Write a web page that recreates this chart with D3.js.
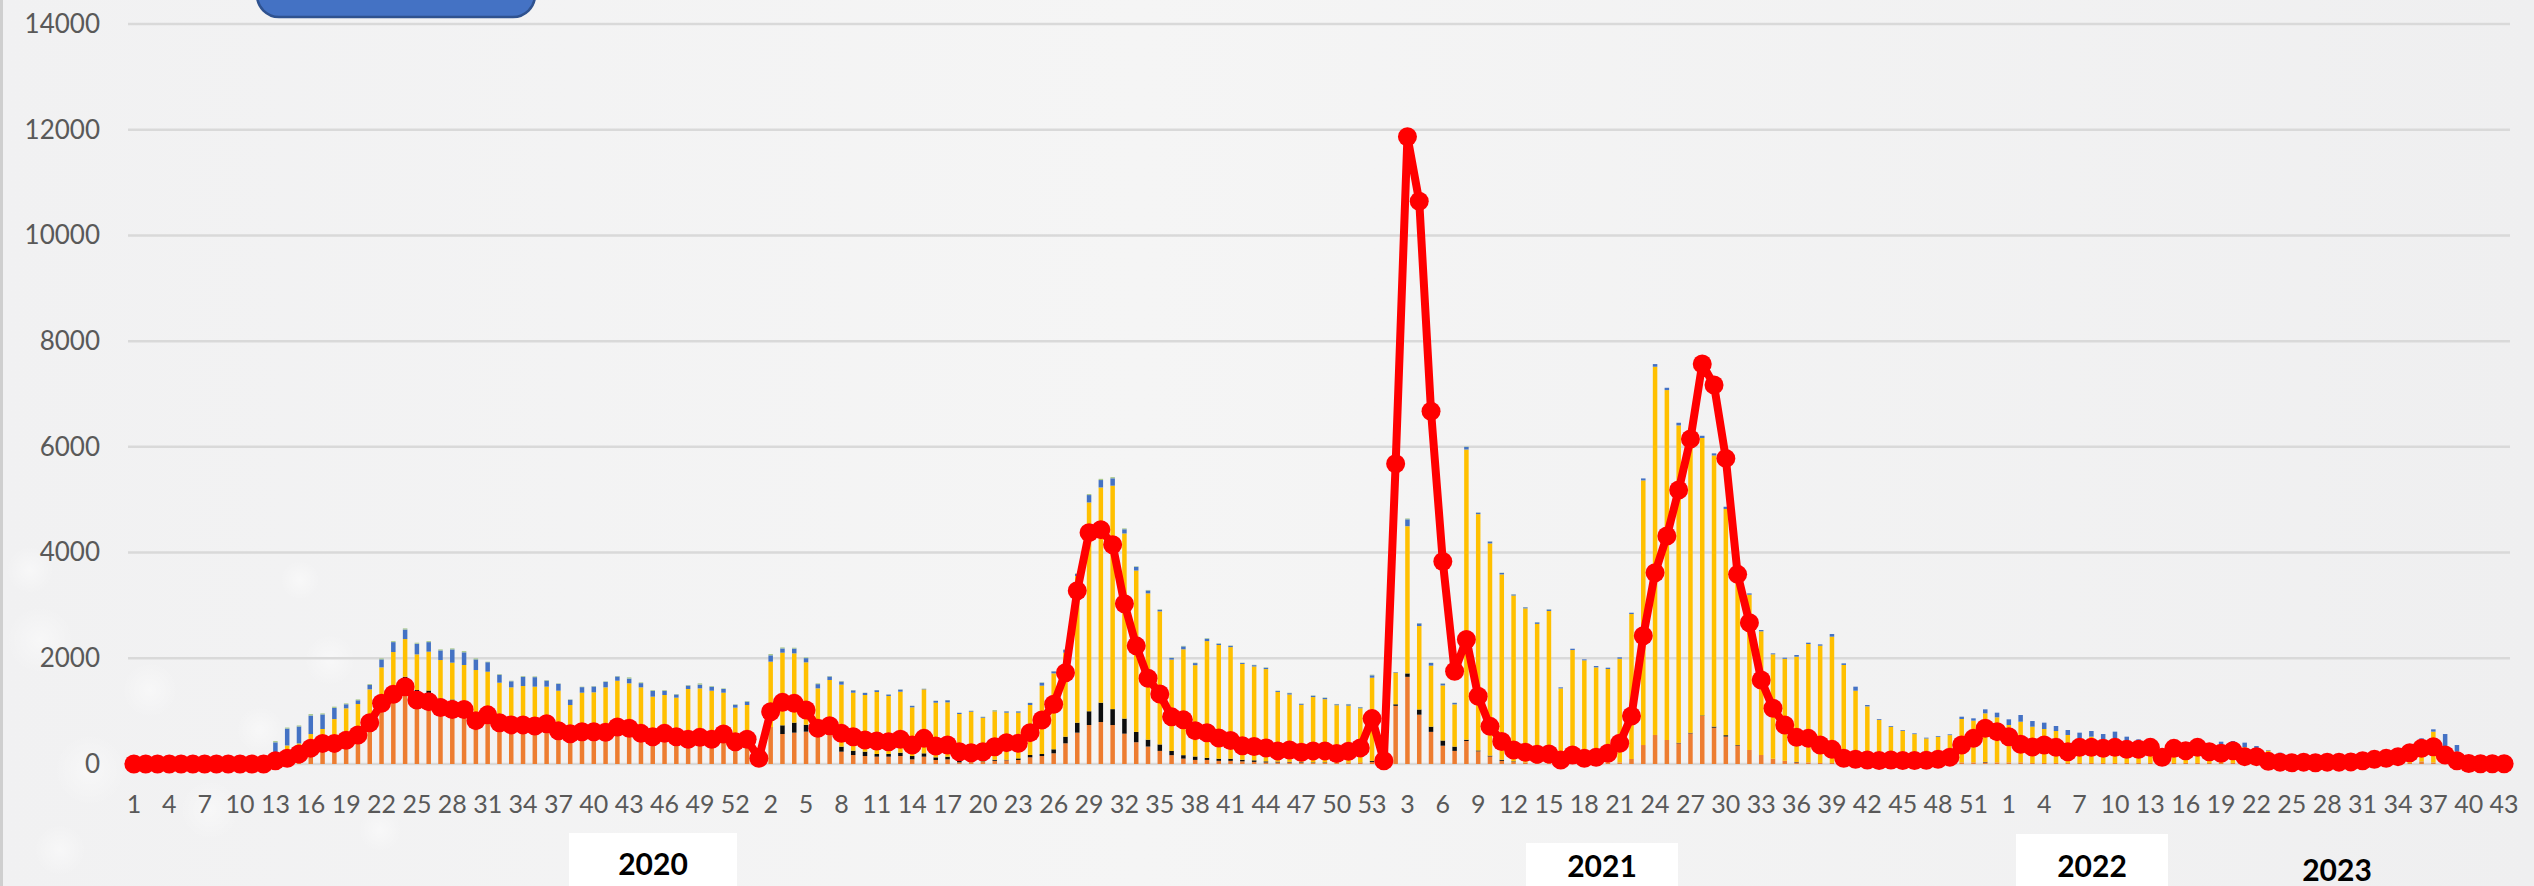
<!DOCTYPE html>
<html>
<head>
<meta charset="utf-8">
<script src="https://cdn.jsdelivr.net/npm/d3@7/dist/d3.min.js"></script>
<style>
	body { margin: 0; overflow: hidden; background: #f2f2f2; }
	svg { display: block; font-family: Lato, "Noto Sans", sans-serif; }
</style>
</head>
<body>
<div id="chart"></div>
<script>

/* Weekly counts, one value per week. Blocks of weeks: 53, 53, 53, 43 */
var blockLengths = [53, 53, 53, 43];
var yearLabels = ["2020", "2021", "2022", "2023"];
var yTicks = [0, 2000, 4000, 6000, 8000, 10000, 12000, 14000];

var orangeSeries = [
	0,0,0,0,0,0,0,0,0,0, 0,0,60,150,200,300,390,450,450,550,
	770,1150,1300,1600,1360,1340,1220,1200,1130,960, 1000,800,760,750,740,770,650,580,620,620,
	610,690,620,560,500,560,500,450,490,450, 560,400,450,
	80,700,567,593,612,630,600,233,170,151, 139,139,151,88,139,76,88,32,40,40,
	60,70,76,126,151,202,391,593,738,794, 737,574,412,330,248,167,102,77,77,60,
	60,50,40,30,30,30,30,20,20,20, 20,20,40,
	40,1100,1649,933,608,346,248,435,240,142, 60,40,30,30,30,30,30,30,30,30,
	30,95,359,549,454,391,580,908,687,520, 350,265,170,100,60,30,30,20,20,20,
	15,10,10,10,10,10,10,10,10,30, 30,30,30,
	30,30,20,20,20,20,20,20,20,20, 20,20,20,20,20,20,20,20,20,20,
	20,20,10,10,10,10,10,10,10,10, 10,10,10,10,20,50,30,20,10,0, 0,0,0
];

var blackSeries = [
	0,0,0,0,0,0,0,0,0,0, 0,0,0,0,0,0,0,0,0,0,
	0,30,40,50,40,50,20,20,30,20, 0,0,0,0,0,0,0,0,0,0,
	0,0,0,0,0,0,0,0,0,0, 0,0,0,
	0,0,165,190,130,50,50,95,82,82, 50,50,63,63,63,50,50,32,20,10,
	20,10,30,44,38,76,126,189,260,366, 301,285,195,130,122,81,65,65,40,40,
	40,30,30,20,15,10,10,10,10,5, 5,5,20,
	0,30,65,98,98,98,81,24,16,16, 20,10,0,0,0,0,0,0,0,0,
	0,0,0,0,0,10,10,10,20,25, 10,0,0,0,0,10,0,0,0,0,
	0,0,0,0,0,0,0,0,0,0, 0,10,0,
	0,0,0,0,0,0,0,0,0,0, 0,0,0,0,0,0,0,0,0,0,
	0,0,0,0,0,0,0,0,0,0, 0,0,0,0,0,0,0,0,0,0, 0,0,0
];

var yellowSeries = [
	0,0,0,0,0,0,0,0,0,0, 0,0,150,200,190,267,272,400,603,585,
	642,648,778,714,674,735,727,697,713,798, 746,738,690,725,723,693,737,536,729,736,
	840,886,906,890,774,745,755,969,941,937, 789,666,666,
	30,1236,1374,1310,1181,751,939,1173,1097,1072, 1173,1097,1154,921,1210,1034,1028,882,930,826,
	916,891,865,946,1293,1437,1589,2774,3950,4072, 4227,3502,3053,2768,2517,1727,2003,1727,2208,2151,
	2111,1813,1775,1746,1319,1275,1080,1236,1196,1087, 1079,1030,1573,
	20,600,2785,1579,1155,1042,799,5490,4471,4015, 3507,3137,2914,2621,2865,1401,2126,1931,1798,1767,
	1962,2742,5006,6967,6620,6005,5670,5250,5130,4280, 3200,2938,2340,1975,1930,1990,2240,2218,2389,1854,
	1372,1080,826,694,618,555,473,505,536,821, 790,918,853,
	708,770,686,642,604,528,466,497,434,466, 402,371,403,200,339,279,339,301,276,295,
	296,257,245,174,120,100,90,80,70,80, 90,100,120,160,250,404,582,320,223,30, 20,10,10
];

var blueSeries = [
	0,0,0,0,0,0,0,0,0,0, 0,0,200,320,320,350,276,210,77,70,
	83,151,188,180,201,181,182,251,240,201, 180,150,115,175,180,115,130,100,105,110,
	105,80,90,80,110,80,60,65,70,75, 70,55,64,
	10,120,80,90,80,80,66,60,45,40, 34,28,40,28,10,35,40,22,15,15,
	5,25,25,38,55,38,55,42,140,140, 140,80,70,55,32,32,55,40,45,25,
	25,18,25,25,18,25,18,25,25,18, 25,18,45,
	0,10,130,50,50,35,28,50,28,36, 28,20,20,28,28,19,25,19,26,25,
	26,25,38,50,44,50,40,42,40,42, 30,25,25,18,21,32,25,25,50,30,
	76,26,15,15,15,15,15,15,15,44, 44,76,88,
	107,127,107,120,95,95,107,107,113,126, 95,76,63,60,63,60,63,70,126,120,
	88,63,10,30,20,20,20,20,20,20, 20,20,20,30,30,32,44,227,126,20, 0,0,0
];

var greenSeries = [
	0,0,0,0,0,0,0,0,0,0, 0,0,25,20,20,28,20,25,18,18,
	18,20,20,22,20,20,20,20,24,20, 10,14,11,15,15,11,9,7,9,9,
	9,9,24,15,16,15,9,10,25,13, 12,8,12,
	0,25,20,17,15,15,10,10,6,4, 4,4,4,3,3,3,4,3,4,4,
	20,6,6,6,8,6,8,8,20,23, 23,17,11,10,8,8,10,9,12,8,
	7,7,7,7,6,8,6,8,7,6, 7,6,12,
	0,0,17,7,7,5,5,7,5,5, 5,5,4,4,4,0,0,0,0,0,
	0,0,0,0,0,0,0,0,0,0, 0,0,0,0,0,0,0,0,0,0,
	0,0,0,0,0,0,0,0,0,0, 0,0,0,
	0,0,0,0,0,0,0,0,0,0, 0,0,0,0,0,0,0,0,0,0,
	0,0,0,0,0,0,0,0,0,0, 0,0,0,0,0,0,0,0,0,0, 0,0,0
];

var lineSeries = [
	0,0,0,0,0,0,0,0,0,0, 0,0,60,110,190,300,390,390,450,550,
	780,1150,1320,1460,1210,1180,1070,1030,1030,820, 930,780,740,740,720,760,630,570,610,610,
	600,700,675,580,517,580,517,467,504,467, 567,422,467,
	107,990,1166,1147,1021,675,725,580,517,454, 435,422,467,360,485,340,360,233,214,233,
	328,404,391,593,832,1129,1728,3279,4377,4434, 4149,3033,2235,1624,1323,892,835,631,590,493,
	444,346,330,305,248,265,224,248,248,200, 240,305,859,
	61,5680,11868,10647,6673,3831,1754,2357,1282,712, 427,265,224,183,190,76,170,107,126,202,
	391,908,2427,3619,4313,5183,6147,7566,7169,5782, 3588,2673,1589,1053,738,504,485,359,277,110,
	90,75,65,75,65,65,70,90,130,359, 485,675,612,
	517,375,320,359,315,233,315,315,296,315, 277,277,315,126,296,252,315,233,202,252,
	139,139,50,35,25,35,25,35,35,40, 63,88,107,139,214,296,328,170,63,10, 5,5,5
];

var seriesKeys = ["orange", "black", "yellow", "blue", "green"];
var seriesColors = {
	orange: "#ED7D31",
	black: "#0d0d0d",
	yellow: "#FFC000",
	blue: "#4472C4",
	green: "#A9C98F"
};


var W = 2534, H = 886;
var plot = {left: 128, right: 2510, top: 24, bottom: 764};

// Week number of every column
var weeks = [];
blockLengths.forEach(function(len) {
	for (var w = 1; w <= len; w++) weeks.push(w);
});

var rows = weeks.map(function(w, i) {
	return {
		i: i,
		orange: orangeSeries[i],
		black: blackSeries[i],
		yellow: yellowSeries[i],
		blue: blueSeries[i],
		green: greenSeries[i]
	};
});

var svg = d3.select("#chart")
	.append("svg")
	.attr("width", W)
	.attr("height", H);

// Background
var defs = svg.append("defs");
var bg = defs.append("linearGradient").attr("id", "bg").attr("x1", 0).attr("x2", 1).attr("y1", 0).attr("y2", 0);
bg.append("stop").attr("offset", "0%").attr("stop-color", "#f1f1f2");
bg.append("stop").attr("offset", "45%").attr("stop-color", "#f5f5f5");
bg.append("stop").attr("offset", "100%").attr("stop-color", "#efeff0");
var glow = defs.append("radialGradient").attr("id", "glow");
glow.append("stop").attr("offset", "0%").attr("stop-color", "#ffffff").attr("stop-opacity", 0.45);
glow.append("stop").attr("offset", "100%").attr("stop-color", "#ffffff").attr("stop-opacity", 0);

svg.append("rect").attr("width", W).attr("height", H).attr("fill", "url(#bg)");

// soft bokeh spots in the lower left corner
var spots = [[40, 640, 34], [150, 690, 28], [90, 770, 36], [260, 730, 24], [330, 660, 26], [210, 810, 30], [60, 850, 26], [380, 830, 22], [30, 570, 24], [300, 580, 20]];
svg.append("g").selectAll("circle")
	.data(spots)
	.enter().append("circle")
	.attr("cx", function(d) { return d[0]; })
	.attr("cy", function(d) { return d[1]; })
	.attr("r", function(d) { return d[2]; })
	.attr("fill", "url(#glow)");

svg.append("line")
	.attr("x1", 1.5).attr("x2", 1.5).attr("y1", 0).attr("y2", H)
	.attr("stroke", "#cfcfcf").attr("stroke-width", 3);


// Scales
var x = d3.scaleBand()
	.domain(d3.range(weeks.length))
	.range([plot.left, plot.right]);

var y = d3.scaleLinear()
	.domain([0, 14000])
	.range([plot.bottom, plot.top]);

var cx = function(i) { return x(i) + x.bandwidth() / 2; };


// Grid lines
svg.append("g")
	.selectAll("line")
	.data(yTicks)
	.enter().append("line")
	.attr("x1", plot.left).attr("x2", plot.right)
	.attr("y1", function(d) { return y(d); })
	.attr("y2", function(d) { return y(d); })
	.attr("stroke", "#d9d9d9")
	.attr("stroke-width", 2.5);


// Y Axis
var yAxis = d3.axisLeft(y)
	.tickValues(yTicks)
	.tickFormat(d3.format("d"))
	.tickSize(0)
	.tickPadding(28);
var gy = svg.append("g")
	.attr("transform", "translate(" + plot.left + ",0)")
	.call(yAxis);
gy.select(".domain").remove();
gy.selectAll("text")
	.attr("fill", "#595959")
	.style("font-size", "26px")
	.style("font-family", "Lato, 'Noto Sans', sans-serif");


// X Axis, every third week
var xAxis = d3.axisBottom(x)
	.tickValues(d3.range(0, weeks.length, 3))
	.tickFormat(function(i) { return weeks[i]; })
	.tickSize(0)
	.tickPadding(31);
var gx = svg.append("g")
	.attr("transform", "translate(0," + plot.bottom + ")")
	.call(xAxis);
gx.select(".domain").remove();
gx.selectAll("text")
	.attr("fill", "#595959")
	.style("font-size", "25px")
	.style("font-family", "Lato, 'Noto Sans', sans-serif");


// Stacked bars
var stacked = d3.stack().keys(seriesKeys)(rows);
var barW = 4.5;

svg.append("g")
	.selectAll("g")
	.data(stacked)
	.enter().append("g")
	.attr("fill", function(s) { return seriesColors[s.key]; })
	.selectAll("rect")
	.data(function(s) { return s; })
	.enter().append("rect")
	.attr("x", function(d) { return cx(d.data.i) - barW / 2; })
	.attr("y", function(d) { return y(d[1]); })
	.attr("width", barW)
	.attr("height", function(d) { return Math.max(0, y(d[0]) - y(d[1])); });


// Red line with markers
var line = d3.line()
	.x(function(v, i) { return cx(i); })
	.y(function(v) { return y(v); });

svg.append("path")
	.datum(lineSeries)
	.attr("d", line)
	.attr("fill", "none")
	.attr("stroke", "#FF0000")
	.attr("stroke-width", 8)
	.attr("stroke-linejoin", "round");

svg.append("g")
	.selectAll("circle")
	.data(lineSeries)
	.enter().append("circle")
	.attr("cx", function(v, i) { return cx(i); })
	.attr("cy", function(v) { return y(v); })
	.attr("r", 9.5)
	.attr("fill", "#FF0000");


// Year labels under the axis
var yearBoxes = [
	{x0: 569, x1: 737, top: 833, base: 875, box: true},
	{x0: 1526, x1: 1678, top: 843, base: 877, box: true},
	{x0: 2016, x1: 2168, top: 834, base: 877, box: true},
	{x0: 2262, x1: 2412, top: 850, base: 881, box: false}
];
var gYears = svg.append("g");
yearLabels.forEach(function(label, k) {
	var b = yearBoxes[k];
	if (b.box) {
		gYears.append("rect")
			.attr("x", b.x0).attr("y", b.top)
			.attr("width", b.x1 - b.x0).attr("height", H - b.top + 2)
			.attr("fill", "#ffffff");
	}
	gYears.append("text")
		.attr("x", (b.x0 + b.x1) / 2)
		.attr("y", b.base)
		.attr("text-anchor", "middle")
		.attr("fill", "#000000")
		.style("font-size", "30px")
		.style("font-weight", "bold")
		.text(label);
});


// Legend box, mostly above the top edge
svg.append("rect")
	.attr("x", 257).attr("y", -40)
	.attr("width", 278).attr("height", 57)
	.attr("rx", 22)
	.attr("fill", "#4472C4")
	.attr("stroke", "#2F528F")
	.attr("stroke-width", 2.5);

</script>
</body>
</html>
